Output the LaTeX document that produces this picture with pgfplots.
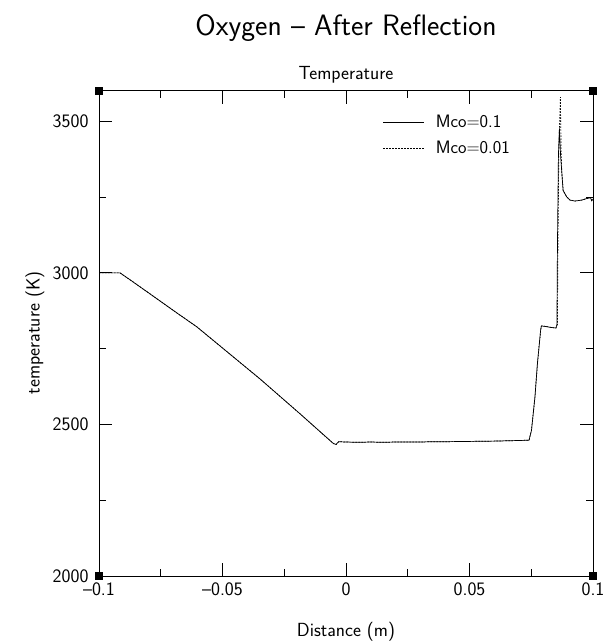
\documentclass[border=0pt]{standalone}
\usepackage{fontspec}
\usepackage{pgfplots}
\pgfplotsset{compat=1.18}
\newcommand{\lf}{\sffamily\fontsize{19}{19}\selectfont}
\pgfplotstableread{
x y
-0.1000 3000
-0.0950 3000
-0.0915 3000
-0.0874 2977
-0.0794 2931
-0.0692 2872
-0.0604 2822
-0.0470 2732
-0.0348 2650
-0.0186 2535
-0.0051 2437
-0.0040 2434
-0.0030 2443
0.0000 2442
0.0050 2441
0.0100 2442
0.0150 2441
0.0200 2442
0.0300 2442
0.0350 2443
0.0400 2443
0.0500 2444
0.0600 2445
0.0650 2446
0.0700 2447
0.0741 2448
0.0751 2481
0.0765 2591
0.0775 2701
0.0788 2811
0.0791 2825
0.0810 2823
0.0830 2820
0.0850 2818
0.0854 2830
0.0856 3085
0.0860 3388
0.0864 3477
0.0869 3383
0.0874 3328
0.0879 3272
0.0894 3250
0.0907 3240
0.0927 3237
0.0954 3240
0.0974 3245
0.0990 3248
0.0995 3238
0.1000 3243
}\solid
\pgfplotstableread{
x y
-0.1000 3000
-0.0950 3000
-0.0915 3000
-0.0874 2977
-0.0794 2931
-0.0692 2872
-0.0604 2822
-0.0470 2732
-0.0348 2650
-0.0186 2535
-0.0051 2437
-0.0040 2434
-0.0030 2443
0.0000 2442
0.0050 2441
0.0100 2442
0.0150 2441
0.0200 2442
0.0300 2442
0.0350 2443
0.0400 2443
0.0500 2444
0.0600 2445
0.0650 2446
0.0700 2447
0.0741 2448
0.0751 2481
0.0765 2591
0.0775 2701
0.0788 2811
0.0791 2825
0.0810 2823
0.0830 2820
0.0850 2818
0.0856 2830
0.0858 3085
0.0862 3420
0.0868 3580
0.0871 3400
0.0874 3328
0.0879 3272
0.0894 3250
0.0907 3240
0.0927 3237
0.0954 3240
0.0974 3245
0.0990 3248
0.0995 3238
0.1000 3243
}\dashed
\begin{document}
\begin{tikzpicture}[x=1pt,y=1pt]
\begin{axis}[name=ax, at={(0,0)}, anchor=south west,
  scale only axis, width=494pt, height=485pt,
  xmin=-0.1, xmax=0.1, ymin=2000, ymax=3600,
  xtick={-0.1,-0.05,0,0.05,0.1},
  xticklabels={--0.1,--0.05,0,0.05,0.1},
  minor xtick={-0.075,-0.025,0.025,0.075},
  ytick={2000,2500,3000,3500},
  yticklabels={2000,2500,3000,3500},
  minor ytick={2250,2750,3250},
  tick align=inside,
  major tick length=13pt, minor tick length=7pt,
  every tick/.style={black, line width=0.8pt},
  axis line style={line width=1pt},
  x tick label style={font=\lf, yshift=-3pt},
  y tick label style={font=\lf, xshift=-7pt},
  clip=false,
  legend style={at={(rel axis cs:0.836,0.955)}, anchor=north east,
    draw=none, fill=none, font=\sffamily\fontsize{18}{18}\selectfont,
    row sep=8pt, inner sep=0pt,
    /tikz/every odd column/.append style={column sep=9pt}},
  legend cell align=left,
  legend image code/.code={\draw[#1] (0pt,0pt) -- (41pt,0pt);},
]
\addplot[black, line width=0.7pt] table {\solid};
\addlegendentry{Mco=0.1}
\addplot[black, line width=0.7pt, dash pattern=on 1.6pt off 1.4pt] table {\dashed};
\addlegendentry{Mco=0.01}
\addplot[only marks, mark=square*, mark size=3.5pt, forget plot] coordinates {(-0.1,2000) (0.1,2000) (-0.1,3600) (0.1,3600)};
\end{axis}
\node[font=\sffamily\fontsize{29.5}{29.5}\selectfont] at (247,548) {Oxygen -- After Reflection};
\node[font=\lf] at (247,501.5) {Temperature};
\node[font=\lf] at (247,-56) {Distance (m)};
\node[font=\lf, rotate=90] at (-64,243) {temperature (K)};
\pgfresetboundingbox
\useasboundingbox (-99,-68) rectangle (505,576);
\end{tikzpicture}
\end{document}
